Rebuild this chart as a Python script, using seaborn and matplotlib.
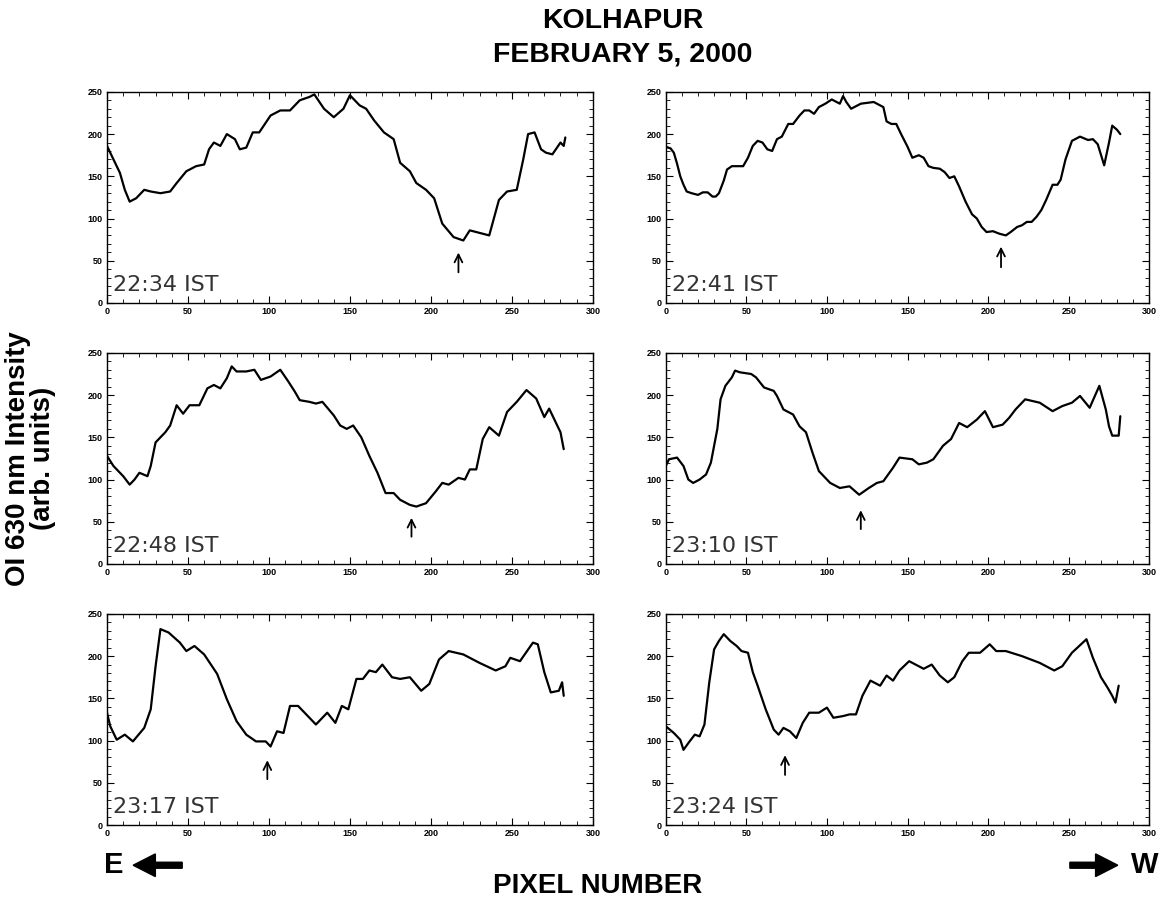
import numpy as np
import pandas as pd
import matplotlib
matplotlib.use("Agg")
import matplotlib.pyplot as plt
from matplotlib.ticker import MultipleLocator
from matplotlib.patches import FancyArrow
import seaborn as sns

x_2234 = [0, 4, 8, 11, 14, 18, 23, 27, 33, 39, 43, 49, 55, 60, 63, 66, 70, 74, 79, 82, 86, 90, 94,
          101, 107, 113, 119, 125, 128, 134, 140, 146, 150, 156, 160, 165, 171, 177, 181, 187, 191,
          197, 202, 207, 214, 220, 224, 228, 236, 242, 247, 253, 257, 260, 264, 268, 271, 275, 280, 282, 283]
y_2234 = [186, 170, 154, 134, 120, 124, 134, 132, 130, 132, 142, 156, 162, 164, 182, 190, 186, 200, 194,
          182, 184, 202, 202, 222, 228, 228, 240, 244, 247, 230, 220, 230, 246, 234, 230, 216, 202, 194,
          166, 156, 142, 134, 124, 94, 78, 74, 86, 84, 80, 122, 132, 134, 170, 200, 202, 182, 178, 176,
          190, 186, 196]

x_2241 = [0, 3, 5, 7, 9, 11, 13, 16, 20, 23, 26, 29, 31, 33, 36, 38, 41, 45, 48, 51, 54, 57, 60, 63,
          66, 69, 72, 76, 79, 83, 86, 89, 92, 95, 99, 103, 106, 108, 110, 112, 115, 118, 121, 125, 129,
          132, 135, 137, 140, 143, 146, 150, 153, 157, 160, 163, 166, 170, 173, 176, 179, 182, 186, 190,
          193, 196, 199, 203, 207, 211, 214, 218, 221, 224, 227, 230, 233, 236, 240, 243, 245, 248, 252,
          257, 262, 265, 268, 272, 275, 277, 280, 282]
y_2241 = [185, 183, 178, 165, 150, 140, 132, 130, 128, 131, 131, 126, 126, 130, 145, 158, 162, 162, 162,
          172, 186, 192, 190, 182, 180, 194, 197, 212, 212, 222, 228, 228, 224, 232, 236, 241, 238, 236,
          245, 238, 230, 233, 236, 237, 238, 235, 232, 215, 212, 212, 200, 185, 172, 175, 172, 162, 160,
          159, 155, 148, 150, 138, 120, 105, 100, 90, 84, 85, 82, 80, 84, 90, 92, 96, 96, 102, 110, 122,
          140, 140, 146, 170, 192, 197, 193, 194, 188, 163, 190, 210, 205, 200]

x_2248 = [0, 4, 10, 14, 17, 20, 25, 27, 30, 33, 36, 39, 43, 47, 51, 57, 62, 66, 70, 74, 77, 80, 86, 91,
          95, 101, 107, 112, 116, 119, 125, 129, 133, 140, 144, 148, 152, 157, 162, 167, 172, 177, 181,
          187, 191, 197, 203, 207, 211, 217, 221, 224, 228, 232, 236, 242, 247, 253, 259, 265, 270, 273,
          277, 280, 282]
y_2248 = [128, 116, 104, 94, 100, 108, 104, 116, 144, 150, 156, 164, 188, 178, 188, 188, 208, 212, 208,
          220, 234, 228, 228, 230, 218, 222, 230, 216, 204, 194, 192, 190, 192, 176, 164, 160, 164, 150,
          128, 108, 84, 84, 76, 70, 68, 72, 86, 96, 94, 102, 100, 112, 112, 148, 162, 152, 180, 192, 206,
          196, 174, 184, 168, 156, 136]

x_2310 = [0, 2, 7, 11, 14, 17, 21, 25, 28, 32, 34, 37, 41, 43, 46, 53, 56, 61, 67, 69, 73, 79, 83, 87,
          91, 95, 102, 108, 114, 120, 126, 131, 135, 141, 145, 153, 157, 162, 166, 172, 177, 182, 187,
          193, 198, 203, 209, 213, 217, 223, 232, 240, 246, 252, 257, 263, 269, 273, 275, 277, 281, 282]
y_2310 = [116, 124, 126, 116, 100, 96, 100, 106, 120, 160, 195, 211, 221, 229, 227, 225, 221, 209, 205,
          199, 183, 177, 163, 156, 132, 110, 96, 90, 92, 82, 90, 96, 98, 114, 126, 124, 118, 120, 124,
          140, 148, 167, 162, 171, 181, 162, 165, 173, 183, 195, 191, 181, 187, 191, 199, 185, 211, 183,
          163, 152, 152, 175]

x_2317 = [0, 2, 6, 11, 16, 23, 27, 30, 33, 38, 45, 49, 54, 60, 68, 74, 80, 86, 92, 98, 101, 105, 109,
          113, 118, 123, 129, 136, 141, 145, 149, 154, 158, 162, 166, 170, 176, 181, 187, 194, 199, 205,
          211, 220, 230, 240, 246, 249, 255, 263, 266, 270, 274, 279, 281, 282]
y_2317 = [133, 117, 101, 107, 99, 115, 137, 188, 232, 228, 216, 206, 212, 202, 179, 149, 123, 107, 99,
          99, 93, 111, 109, 141, 141, 131, 119, 133, 121, 141, 137, 173, 173, 183, 181, 190, 175, 173,
          175, 159, 167, 196, 206, 202, 192, 183, 188, 198, 194, 216, 214, 181, 157, 159, 169, 153]

x_2324 = [0, 5, 9, 11, 14, 18, 21, 24, 27, 30, 33, 36, 40, 44, 47, 51, 54, 57, 62, 67, 70, 73, 77, 81,
          85, 89, 95, 100, 104, 110, 114, 118, 122, 127, 133, 137, 141, 145, 151, 155, 160, 165, 170,
          175, 179, 184, 188, 195, 201, 205, 211, 221, 232, 241, 246, 252, 261, 265, 270, 274, 277, 279, 281]
y_2324 = [117, 109, 101, 89, 97, 107, 105, 119, 169, 208, 218, 226, 218, 212, 206, 204, 181, 165, 137,
          113, 107, 115, 111, 103, 121, 133, 133, 139, 127, 129, 131, 131, 153, 171, 165, 177, 171, 183,
          194, 190, 185, 190, 177, 169, 175, 194, 204, 204, 214, 206, 206, 200, 192, 183, 188, 204, 220,
          198, 175, 163, 153, 145, 165]

times = ["22:34 IST", "22:41 IST", "22:48 IST", "23:10 IST", "23:17 IST", "23:24 IST"]
xs = [x_2234, x_2241, x_2248, x_2310, x_2317, x_2324]
ys = [y_2234, y_2241, y_2248, y_2310, y_2317, y_2324]
# arrows marking the depletion: (pixel, tail, head)
arrow_x = [217, 208, 188, 121, 99, 74]
arrow_y0 = [33, 39, 29, 38, 51, 56]
arrow_y1 = [63, 70, 58, 67, 80, 86]

sns.set_theme(style="ticks")
plt.rcParams['font.family'] = ['Liberation Sans', 'DejaVu Sans']
plt.rcParams['text.color'] = 'black'
plt.rcParams['xtick.color'] = 'black'
plt.rcParams['ytick.color'] = 'black'

fig = plt.figure(figsize=(11.68, 9.06), dpi=100)

lefts = [0.0916, 0.570]
bottoms = [0.6656, 0.3775, 0.0894]
w = [0.416, 0.414]
h = 0.233

for i in range(6):
    r, c = divmod(i, 2)
    ax = fig.add_axes([lefts[c], bottoms[r], w[c], h])
    df = pd.DataFrame({"pixel": xs[i], "intensity": ys[i]})
    sns.lineplot(data=df, x="pixel", y="intensity", ax=ax, color="black", lw=1.6, estimator=None)
    ax.set_xlim(0, 300)
    ax.set_ylim(0, 250)
    ax.xaxis.set_major_locator(MultipleLocator(50))
    ax.xaxis.set_minor_locator(MultipleLocator(10))
    ax.yaxis.set_major_locator(MultipleLocator(50))
    ax.yaxis.set_minor_locator(MultipleLocator(10))
    ax.tick_params(which="both", direction="in", top=True, right=True, colors="black",
                   labelsize=6.5, pad=3)
    ax.tick_params(which="major", length=5, width=0.8)
    ax.tick_params(which="minor", length=3, width=0.6)
    for lab in ax.get_xticklabels() + ax.get_yticklabels():
        lab.set_fontweight("bold")
    for s in ax.spines.values():
        s.set_linewidth(1.0)
        s.set_color("black")
    ax.set_xlabel("")
    ax.set_ylabel("")
    ax.text(0.012, 0.04, times[i], transform=ax.transAxes, fontsize=16,
            family="DejaVu Sans", color="#333333", ha="left", va="bottom")
    ax.annotate("", xy=(arrow_x[i], arrow_y1[i]), xytext=(arrow_x[i], arrow_y0[i]),
                arrowprops=dict(arrowstyle="->", lw=1.3, color="black",
                                mutation_scale=14))

fig.text(0.533, 0.977, "KOLHAPUR", ha="center", va="center", fontsize=20.5, fontweight="bold")
fig.text(0.533, 0.940, "FEBRUARY 5, 2000", ha="center", va="center", fontsize=20.5, fontweight="bold")
fig.text(0.026, 0.494, "OI 630 nm Intensity\n(arb. units)", ha="center", va="center",
         rotation=90, fontsize=20, fontweight="bold", linespacing=0.95)
fig.text(0.512, 0.022, "PIXEL NUMBER", ha="center", va="center", fontsize=20, fontweight="bold")

ew_y = 0.045
fig.text(0.097, ew_y, "E", ha="center", va="center", fontsize=21, fontweight="bold")
fig.text(0.980, ew_y, "W", ha="center", va="center", fontsize=21, fontweight="bold")
fig.patches.append(FancyArrow(
    0.156, ew_y, -0.042, 0, width=0.0066, head_width=0.025, head_length=0.019,
    transform=fig.transFigure, color="black", length_includes_head=True))
fig.patches.append(FancyArrow(
    0.916, ew_y, 0.041, 0, width=0.0066, head_width=0.025, head_length=0.019,
    transform=fig.transFigure, color="black", length_includes_head=True))

fig.savefig("out.png", dpi=100)
